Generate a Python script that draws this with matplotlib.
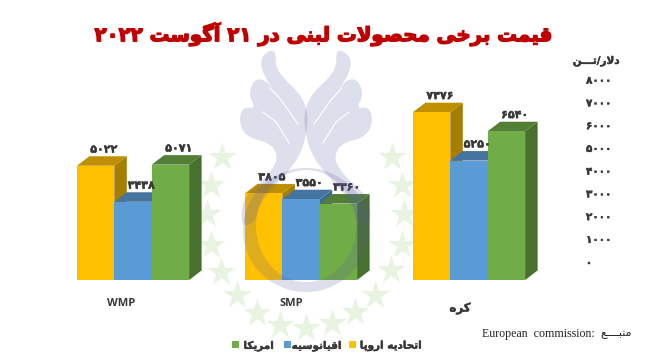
import re
import numpy as np
import matplotlib
matplotlib.use("Agg")
import matplotlib.pyplot as plt
import matplotlib.patheffects as pe
from matplotlib.path import Path
from matplotlib.patches import PathPatch, Rectangle

categories = ["WMP", "SMP", "کره"]
europe = [5022, 3805, 7376]
oceania = [3438, 3550, 5250]
america = [5071, 3360, 6540]
series_names = ["اتحادیه اروپا", "اقیانوسیه", "امریکا"]
y_ticks = [0, 1000, 2000, 3000, 4000, 5000, 6000, 7000, 8000]
title = "قیمت برخی محصولات لبنی در ۲۱ آگوست ۲۰۲۲"
unit = "دلار/تـــن"

colors = ["#FFC000", "#5B9BD5", "#70AD47"]
tops = ["#BE9000", "#44749F", "#527F35"]
sides = ["#A67E00", "#3E6A92", "#48702E"]
text_color = "#3B3838"

# isole, final, initial, medial
FORMS = {
    "ا": (0xFE8D, 0xFE8E), "آ": (0xFE81, 0xFE82), "د": (0xFEA9, 0xFEAA),
    "ر": (0xFEAD, 0xFEAE), "و": (0xFEED, 0xFEEE),
    "ب": (0xFE8F, 0xFE90, 0xFE91, 0xFE92), "پ": (0xFB56, 0xFB57, 0xFB58, 0xFB59),
    "ت": (0xFE95, 0xFE96, 0xFE97, 0xFE98), "ح": (0xFEA1, 0xFEA2, 0xFEA3, 0xFEA4),
    "خ": (0xFEA5, 0xFEA6, 0xFEA7, 0xFEA8), "س": (0xFEB1, 0xFEB2, 0xFEB3, 0xFEB4),
    "ص": (0xFEB9, 0xFEBA, 0xFEBB, 0xFEBC), "ع": (0xFEC9, 0xFECA, 0xFECB, 0xFECC),
    "ق": (0xFED5, 0xFED6, 0xFED7, 0xFED8), "ک": (0xFB8E, 0xFB8F, 0xFB90, 0xFB91),
    "گ": (0xFB92, 0xFB93, 0xFB94, 0xFB95), "ل": (0xFEDD, 0xFEDE, 0xFEDF, 0xFEE0),
    "م": (0xFEE1, 0xFEE2, 0xFEE3, 0xFEE4), "ن": (0xFEE5, 0xFEE6, 0xFEE7, 0xFEE8),
    "ه": (0xFEE9, 0xFEEA, 0xFEEB, 0xFEEC), "ی": (0xFBFC, 0xFBFD, 0xFBFE, 0xFBFF),
}


def farsi(s):
    """matplotlib ne fait pas le shaping: formes de presentation, ordre visuel"""
    s = s.replace("لا", "\uFEFB")
    out = []
    for i, c in enumerate(s):
        before = s[i - 1] if i else " "
        after = s[i + 1] if i + 1 < len(s) else " "
        prev_joins = before == "ـ" or len(FORMS.get(before, ())) == 4
        next_joins = after == "ـ" or after == "\uFEFB" or after in FORMS
        if c == "\uFEFB":
            out.append("\uFEFC" if prev_joins else c)
        elif c in FORMS:
            f = FORMS[c]
            if len(f) == 2:
                out.append(chr(f[1] if prev_joins else f[0]))
            elif prev_joins and next_joins:
                out.append(chr(f[3]))
            elif prev_joins:
                out.append(chr(f[1]))
            elif next_joins:
                out.append(chr(f[2]))
            else:
                out.append(chr(f[0]))
        else:
            out.append(c)
    txt = "".join(out)[::-1]
    return re.sub("[۰-۹]+", lambda m: m.group(0)[::-1], txt)


def fa_num(n):
    return str(n).translate(str.maketrans("0123456789", "۰۱۲۳۴۵۶۷۸۹"))


def smooth(points):
    """contour ferme lisse passant par les milieux des points"""
    pts = np.array(points, dtype=float)
    mid = (pts + np.roll(pts, -1, axis=0)) / 2
    verts = [mid[-1]]
    codes = [Path.MOVETO]
    for p, m in zip(pts, mid):
        verts += [p, m]
        codes += [Path.CURVE3, Path.CURVE3]
    return np.array(verts), codes


fig = plt.figure(figsize=(6.45, 3.64), dpi=100)
W, H = 645, 364

# axe principal: x = categories, y = dollars/tonne
px_per_cat = 168
px_per_unit = 182 / 8000
ax = fig.add_axes([49 / W, (H - 280) / H, 504 / W, 182 / H])
ax.set_xlim(-0.5, 2.5)
ax.set_ylim(0, 8000)
ax.axis("off")

bar_w = 37.4 / px_per_cat
depth_x = 12.5 / px_per_cat
depth_y = 9.5 / px_per_unit

for k, values in enumerate([europe, oceania, america]):
    xs = np.arange(len(categories)) + (k - 1) * bar_w
    z = 2 + k
    for x, v in zip(xs, values):
        left, right = x - bar_w / 2, x + bar_w / 2
        ax.fill(
            [right, right + depth_x, right + depth_x, right],
            [0, depth_y, v + depth_y, v],
            color=sides[k], lw=0, zorder=z, clip_on=False,
        )
        ax.fill(
            [left, right, right + depth_x, left + depth_x],
            [v, v, v + depth_y, v + depth_y],
            color=tops[k], lw=0, zorder=z, clip_on=False,
        )
    ax.bar(xs, values, bar_w, color=colors[k], zorder=z, clip_on=False)

# filigrane et texte dans un axe en pixels
over = fig.add_axes([0, 0, 1, 1], zorder=5)
over.set_xlim(0, W)
over.set_ylim(H, 0)
over.axis("off")

# etoiles derriere les barres
back = fig.add_axes([0, 0, 1, 1], zorder=0)
back.set_xlim(0, W)
back.set_ylim(H, 0)
back.axis("off")
ax.set_zorder(2)
star_x = [222, 211, 207, 211, 221, 237, 257, 280, 306, 332, 355, 375, 391, 402, 404, 402, 392]
star_y = [157, 185, 214, 245, 272, 295, 313, 325, 328, 323, 312, 295, 270, 245, 214, 185, 157]
back.scatter(star_x, star_y, s=460, marker="*", color="#E9F3E2", lw=0)

wm = "#5A60A0"
wing = [
    (228, 2), (226, 48), (250, 85), (300, 130), (326, 190), (318, 262), (296, 325),
    (240, 392), (178, 460), (165, 520), (122, 530), (128, 445), (175, 405), (225, 350), (232, 312),
    (208, 278), (140, 262), (116, 215), (128, 170), (168, 176), (145, 135), (162, 88),
    (196, 88), (226, 128), (190, 75), (180, 30), (205, 2),
]
verts, codes = smooth(wing)
left_wing = verts / 3 + [200, 50]
right_wing = left_wing * [-1, 1] + [2 * 306, 0]
over.add_patch(PathPatch(Path(left_wing, codes), fc=wm, ec="none", alpha=0.2, zorder=6))
over.add_patch(PathPatch(Path(right_wing, codes), fc=wm, ec="none", alpha=0.2, zorder=6))

# fentes blanches dans les plumes
for sx, sy in [([270, 281, 298], [88, 100, 124]), ([263, 276, 289], [112, 122, 143])]:
    sx = np.array(sx)
    over.plot(sx, sy, color="white", lw=0.8, zorder=7)
    over.plot(612 - sx, sy, color="white", lw=0.8, zorder=7)

# anneau: cercle exterieur moins cercle interieur decale
t = np.linspace(0, 2 * np.pi, 120)
outer = np.c_[306 + 63 * np.cos(t), 230 + 62 * np.sin(t)]
inner = np.c_[306 + 50 * np.cos(t[::-1]), 226 + 56 * np.sin(t[::-1])]
ring = Path(np.r_[outer, inner], [Path.MOVETO] + [Path.LINETO] * 119 + [Path.MOVETO] + [Path.LINETO] * 119)
over.add_patch(PathPatch(ring, fc=wm, ec="none", alpha=0.2, zorder=6))

fa_bold = dict(
    family="DejaVu Sans", fontweight="bold", color=text_color,
    path_effects=[pe.withStroke(linewidth=0.3, foreground=text_color)],
)

# valeurs au dessus des barres
for k, values in enumerate([europe, oceania, america]):
    xs = np.arange(len(categories)) + (k - 1) * bar_w
    for x, v in zip(xs, values):
        ax.annotate(
            fa_num(v), (x, v), xytext=(6, 8), textcoords="offset points",
            ha="center", va="bottom", fontsize=8, annotation_clip=False, zorder=20,
            **fa_bold,
        )

# graduations decalees par rapport aux barres, comme sur l'original
for v in y_ticks:
    over.annotate(
        fa_num(v), (586, 280 - v * px_per_unit), xytext=(0, 12.5),
        textcoords="offset points", ha="left", va="center", fontsize=7.5, **fa_bold,
    )

over.text(596, 61, farsi(unit), ha="center", va="center", fontsize=7.5, **fa_bold)

over.text(
    325, 34, farsi(title), ha="center", va="center", fontsize=14.2, family="DejaVu Sans",
    fontweight="bold", color="#C00000",
    path_effects=[pe.withStroke(linewidth=1.0, foreground="#C00000")],
)

over.text(121, 304, categories[0], ha="center", va="center", fontsize=8, color=text_color,
          family="Open Sans", fontweight="bold")
over.text(291, 304, categories[1], ha="center", va="center", fontsize=8, color=text_color,
          family="Open Sans", fontweight="bold")
over.text(460, 308, farsi(categories[2]), ha="center", va="center", fontsize=8.5, **fa_bold)

# legende (de droite a gauche)
for k, (sq_x, tx_x) in enumerate([(349, 390.5), (284, 316.5), (232, 258.5)]):
    over.add_patch(Rectangle((sq_x, 341), 7, 7, fc=colors[k], ec="none", zorder=7))
    over.text(tx_x, 346, farsi(series_names[k]), ha="center", va="center", fontsize=7.5, **fa_bold)

over.text(482, 334, "European  commission:", ha="left", va="center", fontsize=8.6,
          family="Liberation Serif", color="#222222")
over.text(632, 334, farsi("منبــــع"), ha="right", va="center", fontsize=8,
          family="DejaVu Sans", color="#222222")

fig.savefig("out.png", dpi=100)
